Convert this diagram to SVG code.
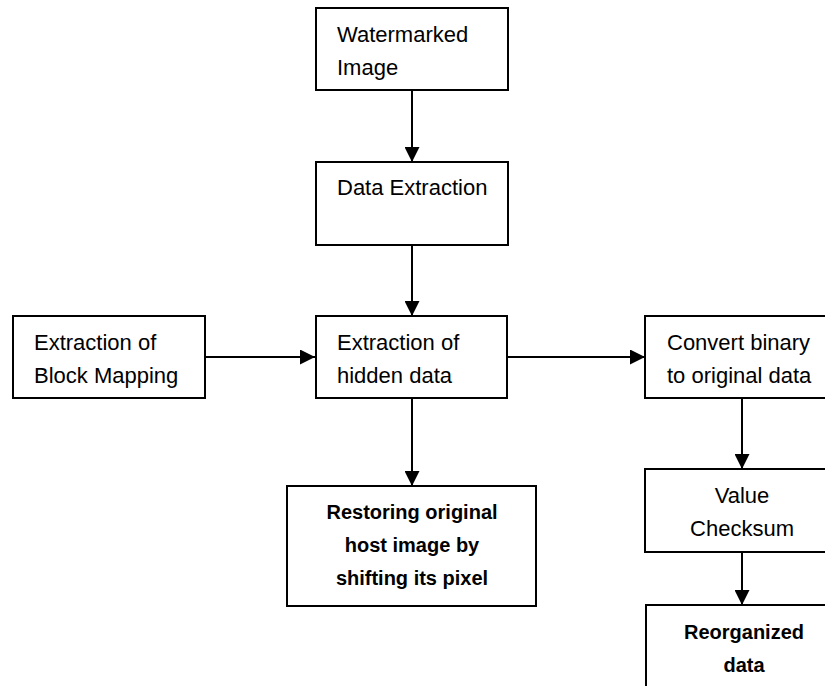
<svg xmlns="http://www.w3.org/2000/svg" width="825" height="686" viewBox="0 0 825 686">
<defs>
<style>
.box{fill:#fff;stroke:#000;stroke-width:2}
.t{font-family:"Liberation Sans",Arial,sans-serif;font-size:22px;fill:#000}
.b{font-family:"Liberation Sans",Arial,sans-serif;font-size:20px;font-weight:bold;fill:#000;text-anchor:middle}
.c{text-anchor:middle}
.ln{stroke:#000;stroke-width:2;fill:none;marker-end:url(#ah)}
</style>
<marker id="ah" viewBox="0 0 15 15" refX="15" refY="7.5" markerWidth="15" markerHeight="15" markerUnits="userSpaceOnUse" orient="auto">
<path d="M0,0 L15,7.5 L0,15 Z" fill="#000"/>
</marker>
</defs>
<rect width="825" height="686" fill="#fff"/>
<g id="connectors">
<line class="ln" x1="412" y1="90" x2="412" y2="162"/>
<line class="ln" x1="412" y1="245" x2="412" y2="316"/>
<line class="ln" x1="205" y1="357" x2="315" y2="357"/>
<line class="ln" x1="507" y1="357" x2="645" y2="357"/>
<line class="ln" x1="412" y1="398" x2="412" y2="486"/>
<line class="ln" x1="742" y1="398" x2="742" y2="469"/>
<line class="ln" x1="742" y1="552" x2="742" y2="605"/>
</g>
<g id="watermarked">
<rect class="box" x="316" y="8" width="192" height="82"/>
<text class="t" x="337" y="42">Watermarked</text>
<text class="t" x="337" y="75">Image</text>
</g>
<g id="data-extraction">
<rect class="box" x="316" y="162" width="192" height="83"/>
<text class="t" x="337" y="195">Data Extraction</text>
</g>
<g id="block-mapping">
<rect class="box" x="13" y="316" width="192" height="82"/>
<text class="t" x="34" y="350">Extraction of</text>
<text class="t" x="34" y="383">Block Mapping</text>
</g>
<g id="hidden-data">
<rect class="box" x="316" y="316" width="191" height="82"/>
<text class="t" x="337" y="350">Extraction of</text>
<text class="t" x="337" y="383">hidden data</text>
</g>
<g id="convert">
<rect class="box" x="645" y="316" width="200" height="82"/>
<text class="t" x="667" y="350">Convert binary</text>
<text class="t" x="667" y="383">to original data</text>
</g>
<g id="restoring">
<rect class="box" x="287" y="486" width="249" height="120"/>
<text class="b" x="412" y="519">Restoring original</text>
<text class="b" x="412" y="552">host image by</text>
<text class="b" x="412" y="585">shifting its pixel</text>
</g>
<g id="checksum">
<rect class="box" x="645" y="469" width="200" height="83"/>
<text class="t c" x="742" y="503">Value</text>
<text class="t c" x="742" y="536">Checksum</text>
</g>
<g id="reorganized">
<rect class="box" x="646" y="605" width="200" height="100"/>
<text class="b" x="744" y="639">Reorganized</text>
<text class="b" x="744" y="672">data</text>
</g>
</svg>
